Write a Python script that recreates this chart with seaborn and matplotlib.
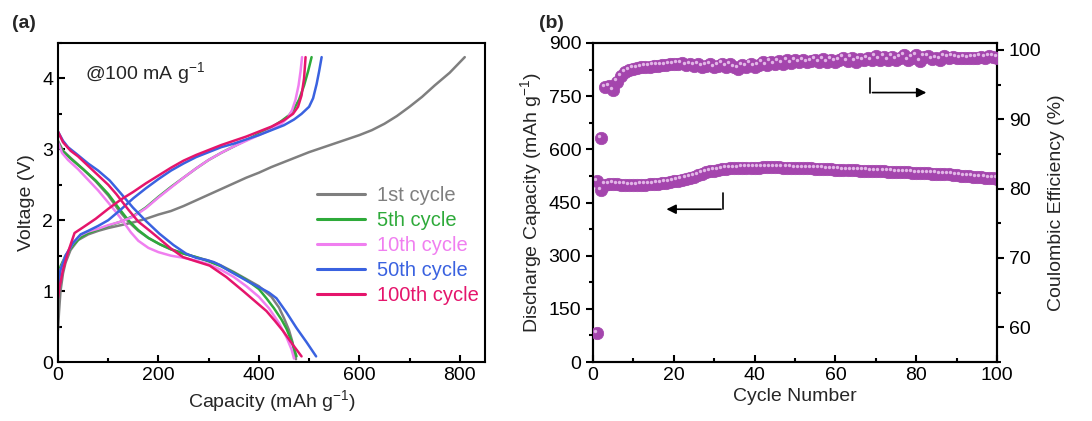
import numpy as np
import pandas as pd
import matplotlib
matplotlib.use("Agg")
import matplotlib.pyplot as plt
import seaborn as sns
from matplotlib.lines import Line2D
from matplotlib.transforms import ScaledTranslation
from matplotlib.ticker import MultipleLocator

# ---------------- data: panel (a) charge/discharge profiles ----------------
cycle_labels = ["1st cycle", "5th cycle", "10th cycle", "50th cycle", "100th cycle"]
cycle_colors = ["#7f7f7f", "#2eaa3a", "#f07ff0", "#3a62e0", "#e5156c"]

c1_chg_cap = [0, 2, 5, 10, 15, 25, 40, 60, 80, 100, 125, 150, 175, 200, 225, 250, 275, 300, 325, 350,
              375, 400, 425, 450, 475, 500, 525, 550, 575, 600, 625, 650, 675, 700, 725, 750, 780, 810]
c1_chg_v = [0.45, 0.7, 1.0, 1.25, 1.4, 1.58, 1.72, 1.8, 1.85, 1.89, 1.93, 1.97, 2.02, 2.08, 2.13, 2.2,
            2.28, 2.36, 2.44, 2.52, 2.6, 2.67, 2.75, 2.82, 2.89, 2.96, 3.02, 3.08, 3.14, 3.2, 3.27, 3.36,
            3.47, 3.6, 3.74, 3.9, 4.08, 4.3]
c1_dis_cap = [0, 10, 25, 50, 75, 100, 120, 140, 160, 180, 203, 225, 250, 275, 300, 325, 350, 375, 400,
              425, 440, 450, 460, 467, 471, 474]
c1_dis_v = [3.12, 2.98, 2.88, 2.72, 2.55, 2.35, 2.15, 1.98, 1.85, 1.75, 1.66, 1.59, 1.53, 1.48, 1.43,
            1.36, 1.27, 1.17, 1.07, 0.92, 0.77, 0.62, 0.45, 0.28, 0.12, 0.04]

c5_chg_cap = [0, 5, 15, 30, 45, 60, 80, 100, 125, 150, 175, 200, 225, 250, 275, 300, 325, 350, 375, 400,
              425, 445, 460, 470, 480, 490, 498, 505]
c5_chg_v = [1.2, 1.35, 1.5, 1.65, 1.76, 1.82, 1.87, 1.92, 1.98, 2.06, 2.18, 2.33, 2.47, 2.6, 2.73, 2.85,
            2.95, 3.04, 3.13, 3.22, 3.31, 3.4, 3.48, 3.57, 3.7, 3.9, 4.1, 4.3]
c5_dis_cap = [0, 10, 25, 50, 75, 100, 120, 140, 160, 180, 203, 225, 250, 275, 300, 325, 350, 375, 400,
              415, 430, 445, 455, 465, 475]
c5_dis_v = [3.1, 2.97, 2.87, 2.72, 2.56, 2.37, 2.18, 2.0, 1.86, 1.75, 1.66, 1.59, 1.53, 1.48, 1.42,
            1.35, 1.26, 1.16, 1.03, 0.9, 0.76, 0.6, 0.47, 0.3, 0.08]

c10_chg_cap = [0, 5, 15, 30, 45, 60, 80, 100, 125, 150, 175, 200, 225, 250, 275, 300, 325, 350, 375, 400,
               425, 445, 458, 466, 473, 479, 483, 486]
c10_chg_v = [1.1, 1.3, 1.5, 1.68, 1.79, 1.84, 1.88, 1.93, 1.98, 2.05, 2.17, 2.32, 2.46, 2.6, 2.73, 2.85,
             2.95, 3.04, 3.12, 3.2, 3.28, 3.36, 3.45, 3.55, 3.7, 3.9, 4.1, 4.3]
c10_dis_cap = [0, 8, 20, 40, 60, 80, 100, 115, 130, 145, 160, 180, 200, 225, 250, 275, 300, 325, 350,
               375, 400, 420, 440, 455, 465, 470]
c10_dis_v = [3.1, 2.95, 2.85, 2.72, 2.57, 2.42, 2.25, 2.12, 1.98, 1.83, 1.71, 1.61, 1.55, 1.5, 1.47,
             1.43, 1.38, 1.3, 1.2, 1.07, 0.92, 0.76, 0.55, 0.35, 0.18, 0.05]

c50_chg_cap = [0, 5, 15, 30, 45, 60, 80, 100, 125, 150, 175, 200, 225, 250, 275, 300, 325, 350, 375, 400,
               425, 450, 470, 485, 500, 508, 515, 520, 525]
c50_chg_v = [1.05, 1.3, 1.5, 1.68, 1.8, 1.85, 1.92, 2.0, 2.15, 2.31, 2.45, 2.58, 2.7, 2.8, 2.89, 2.96,
             3.03, 3.08, 3.14, 3.2, 3.27, 3.34, 3.42, 3.5, 3.6, 3.72, 3.92, 4.1, 4.3]
c50_dis_cap = [0, 10, 20, 36, 60, 80, 103, 125, 149, 175, 202, 230, 255, 275, 295, 310, 322, 340, 360,
               380, 402, 420, 435, 455, 475, 495, 514]
c50_dis_v = [3.25, 3.12, 3.03, 2.94, 2.8, 2.7, 2.56, 2.38, 2.18, 1.99, 1.81, 1.65, 1.53, 1.47, 1.44,
             1.41, 1.37, 1.29, 1.21, 1.13, 1.05, 0.98, 0.9, 0.7, 0.48, 0.28, 0.08]

c100_chg_cap = [0, 3, 10, 20, 33, 50, 75, 100, 125, 150, 175, 200, 225, 250, 275, 300, 325, 350, 375, 400,
                425, 450, 468, 478, 485, 490, 493]
c100_chg_v = [0.9, 1.05, 1.3, 1.55, 1.82, 1.9, 2.02, 2.16, 2.29, 2.4, 2.52, 2.63, 2.74, 2.84, 2.92,
              2.99, 3.06, 3.12, 3.18, 3.25, 3.32, 3.41, 3.5, 3.6, 3.76, 4.0, 4.3]
c100_dis_cap = [0, 10, 25, 40, 70, 100, 116, 140, 160, 183, 200, 225, 249, 275, 302, 335, 369, 392, 415,
                432, 448, 465, 485]
c100_dis_v = [3.25, 3.1, 2.98, 2.9, 2.7, 2.5, 2.37, 2.15, 1.98, 1.85, 1.75, 1.6, 1.48, 1.42, 1.36,
              1.2, 1.0, 0.86, 0.72, 0.58, 0.44, 0.27, 0.08]

# ---------------- data: panel (b) cycling ----------------
cycle_number = list(range(1, 101))
discharge_capacity = [
    510, 485, 500, 502, 503, 502, 500, 500, 499, 499,
    499, 500, 500, 501, 502, 503, 504, 506, 508, 510,
    512, 514, 517, 520, 523, 527, 531, 535, 538, 540,
    542, 544, 545, 546, 547, 547, 548, 548, 548, 548,
    548, 549, 549, 549, 549, 549, 548, 548, 548, 547,
    547, 546, 546, 546, 545, 545, 545, 544, 544, 543,
    543, 542, 542, 541, 541, 540, 540, 540, 539, 539,
    538, 538, 537, 537, 536, 536, 535, 535, 534, 533,
    533, 532, 532, 531, 531, 530, 530, 529, 528, 527,
    526, 525, 524, 523, 522, 521, 520, 519, 518, 517]
coulombic_efficiency = [
    59.2, 87.3, 94.6, 94.8, 94.2, 95.4, 96.2, 96.8, 97.1, 97.3,
    97.4, 97.5, 97.6, 97.6, 97.7, 97.7, 97.8, 97.8, 97.9, 97.9,
    98.0, 98.1, 97.8, 97.9, 97.7, 97.9, 97.6, 97.7, 97.9, 97.5,
    97.7, 98.0, 97.6, 97.9, 97.5, 97.3, 97.8, 97.6, 98.0, 97.6,
    97.8, 98.2, 97.8, 98.3, 97.9, 98.4, 98.0, 98.5, 98.1, 98.5,
    98.2, 98.5, 98.2, 98.4, 98.6, 98.2, 98.7, 98.2, 98.6, 98.3,
    98.5, 98.9, 98.4, 98.9, 98.3, 98.7, 98.5, 98.8, 98.5, 99.1,
    98.6, 99.0, 98.5, 99.0, 98.6, 98.9, 99.2, 98.5, 98.9, 99.2,
    98.4, 99.0, 99.1, 98.7, 98.8, 98.6, 99.1, 98.9, 99.0, 98.9,
    98.8, 98.9, 98.8, 98.9, 98.9, 99.0, 98.9, 99.1, 99.0, 98.9]

# ---------------- style ----------------
sns.set_theme(style="ticks")
plt.rcParams["font.family"] = ["Liberation Sans", "DejaVu Sans"]
plt.rcParams["mathtext.fontset"] = "custom"
plt.rcParams["mathtext.rm"] = "Liberation Sans"
plt.rcParams["mathtext.it"] = "Liberation Sans:italic"
plt.rcParams["axes.linewidth"] = 1.5
plt.rcParams["axes.edgecolor"] = "black"
plt.rcParams["lines.solid_joinstyle"] = "round"
plt.rcParams["lines.solid_capstyle"] = "round"

FS = 14
fig = plt.figure(figsize=(10.92, 4.21), dpi=100)
axA = fig.add_axes([0.0531, 0.140, 0.3909, 0.758])
axB = fig.add_axes([0.5430, 0.140, 0.3700, 0.758])

# ---------------- panel (a) ----------------
curves = [
    (c1_chg_cap, c1_chg_v, c1_dis_cap, c1_dis_v),
    (c5_chg_cap, c5_chg_v, c5_dis_cap, c5_dis_v),
    (c10_chg_cap, c10_chg_v, c10_dis_cap, c10_dis_v),
    (c50_chg_cap, c50_chg_v, c50_dis_cap, c50_dis_v),
    (c100_chg_cap, c100_chg_v, c100_dis_cap, c100_dis_v),
]
for (cc, cv, dc, dv), col in zip(curves, cycle_colors):
    sns.lineplot(x=cc, y=cv, ax=axA, color=col, lw=1.8, sort=False, estimator=None)
    sns.lineplot(x=dc, y=dv, ax=axA, color=col, lw=1.8, sort=False, estimator=None)

axA.set_xlim(0, 850)
axA.set_ylim(0, 4.5)
axA.xaxis.set_major_locator(MultipleLocator(200))
axA.xaxis.set_minor_locator(MultipleLocator(100))
axA.yaxis.set_major_locator(MultipleLocator(1))
axA.yaxis.set_minor_locator(MultipleLocator(0.5))
axA.tick_params(which="both", direction="in", labelsize=FS, width=1.5, colors="black")
axA.tick_params(which="major", length=5)
axA.tick_params(which="minor", length=3)
axA.set_xlabel("Capacity (mAh g$^{-1}$)", fontsize=FS, labelpad=3)
axA.set_ylabel("Voltage (V)", fontsize=FS, labelpad=5)
axA.text(0.063, 0.905, "@100 mA g$^{-1}$", transform=axA.transAxes, fontsize=FS,
         va="center", ha="left")

handles = [Line2D([], [], color=c, lw=2.2) for c in cycle_colors]
leg = axA.legend(handles, cycle_labels, loc="upper left", bbox_to_anchor=(0.607, 0.553),
                 frameon=False, fontsize=14.5, handlelength=2.4, handletextpad=0.55,
                 labelspacing=0.3, borderpad=0, borderaxespad=0)
for t, c in zip(leg.get_texts(), cycle_colors):
    t.set_color(c)

# ---------------- panel (b) ----------------
purple = "#a445ad"
hl = "#e2b6e7"
df = pd.DataFrame({"cycle": cycle_number, "cap": discharge_capacity, "ce": coulombic_efficiency})
axB2 = axB.twinx()

sns.scatterplot(data=df, x="cycle", y="cap", ax=axB, color=purple, s=80, edgecolor=purple,
                linewidth=0.5, zorder=3)
sns.scatterplot(data=df, x="cycle", y="ce", ax=axB2, color=purple, s=80, edgecolor=purple,
                linewidth=0.5, zorder=3)
# specular highlight of the sphere markers
off = ScaledTranslation(-1.7 / 72, 1.7 / 72, fig.dpi_scale_trans)
sns.scatterplot(data=df, x="cycle", y="cap", ax=axB, color=hl, s=6, linewidth=0, zorder=4)
axB.collections[-1].set_offset_transform(axB.transData + off)
sns.scatterplot(data=df, x="cycle", y="ce", ax=axB2, color=hl, s=6, linewidth=0, zorder=4)
axB2.collections[-1].set_offset_transform(axB2.transData + off)

axB.set_xlim(0, 100)
axB.set_ylim(0, 900)
axB2.set_ylim(55, 101)
axB.xaxis.set_major_locator(MultipleLocator(20))
axB.xaxis.set_minor_locator(MultipleLocator(10))
axB.yaxis.set_major_locator(MultipleLocator(150))
axB.yaxis.set_minor_locator(MultipleLocator(75))
axB2.yaxis.set_major_locator(MultipleLocator(10))
axB2.yaxis.set_minor_locator(MultipleLocator(5))
axB.tick_params(axis="x", which="both", direction="in", labelsize=FS, width=1.5, colors="black")
axB.tick_params(axis="y", which="both", direction="out", labelsize=FS, width=1.5, colors="black")
axB2.tick_params(axis="y", which="both", direction="out", labelsize=FS, width=1.5, colors="black")
for a in (axB, axB2):
    a.tick_params(which="major", length=5)
    a.tick_params(which="minor", length=3)
axB.set_xlabel("Cycle Number", fontsize=FS, labelpad=3)
axB.set_ylabel("Discharge Capacity (mAh g$^{-1}$)", fontsize=FS, labelpad=3)
axB2.set_ylabel("Coulombic Efficiency (%)", fontsize=FS, labelpad=5)
for a in (axB, axB2):
    for s in a.spines.values():
        s.set_linewidth(1.5)
        s.set_color("black")

# arrows pointing to the relevant axes
axB.plot([32.3, 32.3], [476, 431], color="black", lw=1.2)
axB.annotate("", xy=(17.5, 431), xytext=(32.4, 431),
             arrowprops=dict(arrowstyle="-|>", color="black", lw=1.2, mutation_scale=14))
axB.plot([68.6, 68.6], [800, 760], color="black", lw=1.2)
axB.annotate("", xy=(83.2, 760), xytext=(68.5, 760),
             arrowprops=dict(arrowstyle="-|>", color="black", lw=1.2, mutation_scale=14))

fig.text(0.011, 0.945, "(a)", fontsize=FS, fontweight="bold", va="center")
fig.text(0.494, 0.945, "(b)", fontsize=FS, fontweight="bold", va="center")

fig.savefig("out.png", dpi=100)
